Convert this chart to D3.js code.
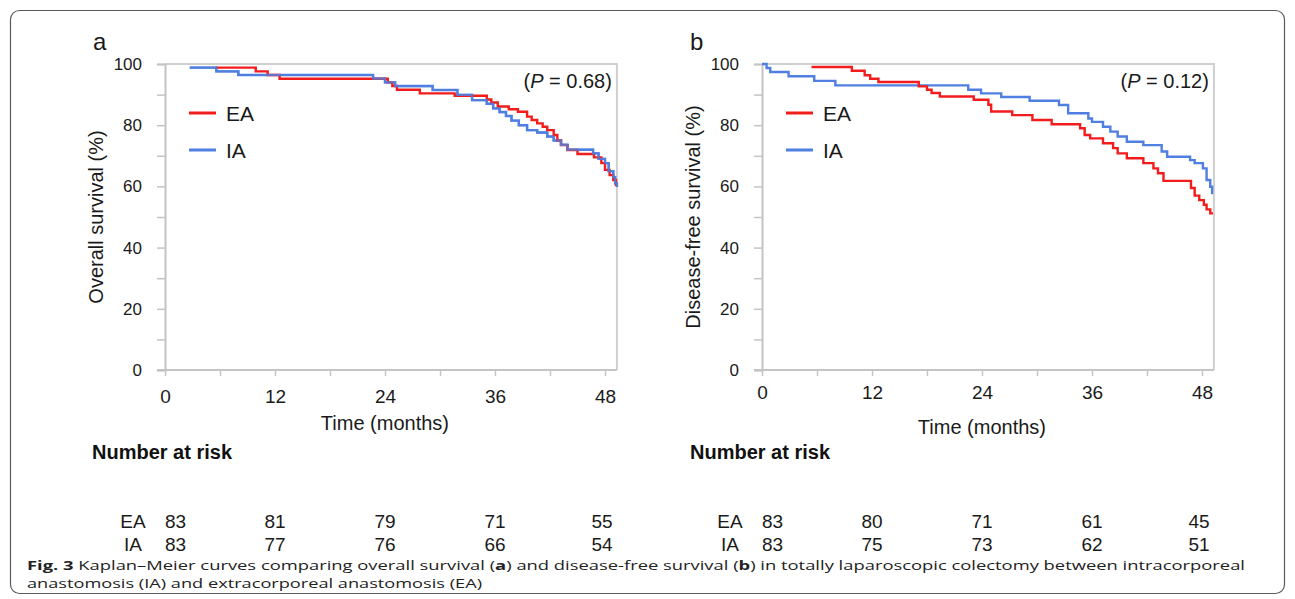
<!DOCTYPE html>
<html>
<head>
<meta charset="utf-8">
<script src="https://cdn.jsdelivr.net/npm/d3@7"></script>
<style>
  html, body { margin: 0; padding: 0; background: #fff; }
  svg { display: block; }
</style>
</head>
<body>
<svg id="chart" width="1295" height="599"></svg>
<script>
// ---------------- DATA ----------------
const groups = ["EA", "IA"];
const xTickValues = [0, 6, 12, 18, 24, 30, 36, 42, 48];
const xLabelValues = [0, 12, 24, 36, 48];
const yTickValues = [0, 10, 20, 30, 40, 50, 60, 70, 80, 90, 100];
const yLabelValues = [0, 20, 40, 60, 80, 100];

// Panel a: overall survival (time in months, survival %)
const osTimeEA = [5.5, 9.9, 11.2, 12.5, 24.3, 24.8, 25.3, 27.8, 31.6, 35.1, 35.6, 36.3, 37.5, 38.5, 39.5, 40.0, 40.6, 41.2, 41.7, 42.4, 42.8, 43.2, 43.9, 45.0, 46.8, 47.6, 48.0, 48.5, 48.9, 49.2, 49.3];
const osSurvEA = [98.8, 97.6, 96.4, 95.2, 94.0, 92.8, 91.6, 90.4, 89.6, 88.4, 87.4, 86.1, 85.2, 84.4, 82.8, 81.7, 80.6, 79.5, 78.4, 76.8, 75.0, 73.5, 71.9, 70.6, 69.5, 67.6, 65.4, 63.7, 62.1, 60.5, 60.5];
const osTimeIA = [2.7, 5.6, 8.0, 22.7, 24.0, 25.1, 29.2, 31.9, 33.5, 35.1, 35.8, 36.5, 37.2, 37.8, 38.6, 39.5, 40.6, 41.7, 42.4, 43.2, 43.9, 46.7, 47.3, 48.0, 48.4, 48.9, 49.1, 49.3];
const osSurvIA = [98.8, 97.6, 96.4, 95.2, 94.0, 92.8, 91.5, 89.9, 88.2, 87.0, 85.5, 84.3, 83.0, 81.5, 80.0, 78.4, 77.6, 76.3, 75.0, 73.6, 72.0, 70.8, 69.0, 67.6, 65.0, 63.0, 61.0, 59.8];

// Panel b: disease-free survival
const dfsTimeEA = [5.4, 9.8, 11.2, 11.8, 12.7, 17.1, 18.0, 18.5, 19.4, 23.1, 24.7, 25.0, 27.3, 29.5, 31.6, 34.7, 35.2, 35.8, 37.2, 38.3, 38.8, 39.8, 41.6, 42.7, 43.2, 43.8, 46.8, 47.2, 47.7, 48.2, 48.5, 48.9, 49.2];
const dfsSurvEA = [99.0, 97.8, 96.3, 95.2, 94.1, 92.7, 91.6, 90.5, 89.4, 88.3, 86.7, 84.5, 83.3, 81.7, 80.3, 79.0, 76.8, 75.7, 74.1, 72.5, 70.8, 69.2, 67.6, 65.9, 64.3, 61.8, 59.5, 57.0, 55.5, 54.0, 52.5, 51.2, 51.2];
const dfsTimeIA = [0, 0.5, 0.9, 2.9, 5.7, 8.0, 22.5, 23.9, 26.1, 29.2, 32.4, 33.4, 35.6, 36.0, 37.2, 38.0, 38.8, 39.8, 41.6, 43.6, 44.2, 46.7, 47.2, 48.1, 48.5, 48.9, 49.1, 49.2];
const dfsSurvIA = [100, 98.7, 97.4, 96.0, 94.5, 93.0, 91.6, 90.4, 89.2, 88.0, 86.6, 83.9, 82.2, 81.1, 79.5, 77.9, 76.3, 74.6, 73.5, 71.4, 69.7, 68.6, 67.6, 65.9, 62.1, 59.9, 57.8, 57.8];

// Numbers at risk at 0, 12, 24, 36, 48 months
const riskTimes = [0, 12, 24, 36, 48];
const osRiskEA = [83, 81, 79, 71, 55];
const osRiskIA = [83, 77, 76, 66, 54];
const dfsRiskEA = [83, 80, 71, 61, 45];
const dfsRiskIA = [83, 75, 73, 62, 51];

const pValues = ["0.68", "0.12"];
const panelLetters = ["a", "b"];
const yTitles = ["Overall survival (%)", "Disease-free survival (%)"];
const xTitle = "Time (months)";

// ---------------- DRAWING ----------------
const svg = d3.select("#chart");
const colors = { EA: "#f21c1c", IA: "#4f7fe0" };
const FONT = "'Liberation Sans', Arial, sans-serif";
const axisGray = "#c4c4c4";

// outer rounded frame
svg.append("rect")
  .attr("x", 10.5).attr("y", 10.5).attr("width", 1274).attr("height", 583)
  .attr("rx", 9).attr("fill", "none").attr("stroke", "#5a5a5a").attr("stroke-width", 1.2);

const zip = (ts, ss) => ts.map((t, i) => [t, ss[i]]);

const panels = [
  { left: 165, xTitleY: 430, xLabelDy: 0,
    curves: { EA: zip(osTimeEA, osSurvEA), IA: zip(osTimeIA, osSurvIA) },
    risk: { EA: osRiskEA, IA: osRiskIA }, riskLabelX: 133, headX: 92 },
  { left: 762, xTitleY: 434, xLabelDy: -4,
    curves: { EA: zip(dfsTimeEA, dfsSurvEA), IA: zip(dfsTimeIA, dfsSurvIA) },
    risk: { EA: dfsRiskEA, IA: dfsRiskIA }, riskLabelX: 730, headX: 690 }
];

panels.forEach((p, pi) => {
  const x = d3.scaleLinear().domain([0, 48]).range([p.left, p.left + 440]);
  const y = d3.scaleLinear().domain([0, 100]).range([370, 64]);
  const xEnd = x(49.3);
  const g = svg.append("g");

  // frame top/right
  g.append("path")
    .attr("d", `M${x(0)},${y(100)}H${xEnd}V${y(0)}`)
    .attr("fill", "none").attr("stroke", "#cfcfcf").attr("stroke-width", 2);

  // y axis
  const yAxis = d3.axisLeft(y).tickValues(yTickValues).tickSize(8).tickPadding(15)
    .tickFormat(d => yLabelValues.includes(d) ? d : "");
  const gy = g.append("g").attr("transform", `translate(${x(0)},0)`).call(yAxis);
  gy.select(".domain").attr("stroke", axisGray).attr("stroke-width", 2);
  gy.selectAll(".tick line").attr("stroke", axisGray).attr("stroke-width", 1.5);
  gy.selectAll(".tick text").attr("font-family", FONT).attr("font-size", 17).attr("fill", "#1a1a1a");

  // x axis
  const xAxis = d3.axisBottom(x).tickValues(xTickValues).tickSize(6).tickPadding(14 + p.xLabelDy)
    .tickFormat(d => xLabelValues.includes(d) ? d : "");
  const gx = g.append("g").attr("transform", `translate(0,${y(0)})`).call(xAxis);
  gx.select(".domain").attr("d", `M${x(0) - 8},0H${xEnd}`).attr("stroke", axisGray).attr("stroke-width", 2);
  gx.selectAll(".tick line").attr("stroke", axisGray).attr("stroke-width", 1.5);
  gx.selectAll(".tick text").attr("font-family", FONT).attr("font-size", 19).attr("fill", "#1a1a1a");

  // curves
  const line = d3.line().x(d => x(d[0])).y(d => y(d[1])).curve(d3.curveStepAfter);
  ["IA", "EA"].forEach(k => {
    g.append("path").datum(p.curves[k]).attr("d", line)
      .attr("fill", "none").attr("stroke", colors[k]).attr("stroke-width", 2.4)
      .attr("stroke-linejoin", "miter");
  });
  if (pi === 0) {
    g.append("path").datum(p.curves.IA).attr("d", line)
      .attr("fill", "none").attr("stroke", colors.IA).attr("stroke-width", 2.2).attr("opacity", 0.85);
  }

  // legend
  groups.forEach((k, i) => {
    const ly = 113 + i * 37;
    g.append("line").attr("x1", p.left + 24).attr("x2", p.left + 51)
      .attr("y1", ly).attr("y2", ly).attr("stroke", colors[k]).attr("stroke-width", 3);
    g.append("text").attr("x", p.left + 61).attr("y", ly + 8)
      .attr("font-family", FONT).attr("font-size", 21).attr("fill", "#1a1a1a").text(k);
  });

  // p value
  const pt = g.append("text").attr("x", xEnd - 5).attr("y", 88).attr("text-anchor", "end")
    .attr("font-family", FONT).attr("font-size", 20).attr("fill", "#1a1a1a");
  pt.append("tspan").text("(");
  pt.append("tspan").attr("font-style", "italic").text("P");
  pt.append("tspan").text(" = " + pValues[pi] + ")");

  // panel letter
  g.append("text").attr("x", p.left - 72).attr("y", 50)
    .attr("font-family", FONT).attr("font-size", 24).attr("fill", "#1a1a1a").text(panelLetters[pi]);

  // y title
  g.append("text").attr("transform", `translate(${p.left - 62},${(y(0) + y(100)) / 2}) rotate(-90)`)
    .attr("text-anchor", "middle").attr("font-family", FONT).attr("font-size", 20)
    .attr("fill", "#1a1a1a").text(yTitles[pi]);

  // x title
  g.append("text").attr("x", (x(0) + xEnd) / 2 - 6).attr("y", p.xTitleY)
    .attr("text-anchor", "middle").attr("font-family", FONT).attr("font-size", 20)
    .attr("fill", "#1a1a1a").text(xTitle);

  // number at risk
  g.append("text").attr("x", p.headX).attr("y", 459)
    .attr("font-family", FONT).attr("font-size", 20).attr("font-weight", "bold")
    .attr("fill", "#111").text("Number at risk");

  groups.forEach((k, i) => {
    const ry = 528 + i * 23;
    g.append("text").attr("x", p.riskLabelX).attr("y", ry).attr("text-anchor", "middle")
      .attr("font-family", FONT).attr("font-size", 19).attr("fill", "#1a1a1a").text(k);
    p.risk[k].forEach((v, j) => {
      const t = riskTimes[j];
      const anchor = j === 0 ? "start" : "middle";
      g.append("text").attr("x", x(t) + (j === riskTimes.length - 1 ? -3 : 0)).attr("y", ry)
        .attr("text-anchor", anchor).attr("font-family", FONT).attr("font-size", 19)
        .attr("fill", "#1a1a1a").text(v);
    });
  });
});

// caption
const CAP = "'Open Sans', 'Noto Sans', sans-serif";
const c1 = svg.append("text").attr("x", 27).attr("y", 570).attr("font-family", CAP)
  .attr("font-size", 13).attr("fill", "#222")
  .attr("textLength", 1218).attr("lengthAdjust", "spacingAndGlyphs");
c1.append("tspan").attr("font-weight", "bold").text("Fig. 3");
c1.append("tspan").text("  Kaplan–Meier curves comparing overall survival (");
c1.append("tspan").attr("font-weight", "bold").text("a");
c1.append("tspan").text(") and disease-free survival (");
c1.append("tspan").attr("font-weight", "bold").text("b");
c1.append("tspan").text(") in totally laparoscopic colectomy between intracorporeal");

svg.append("text").attr("x", 27).attr("y", 588).attr("font-family", CAP)
  .attr("font-size", 13).attr("fill", "#222")
  .attr("textLength", 455).attr("lengthAdjust", "spacingAndGlyphs")
  .text("anastomosis (IA) and extracorporeal anastomosis (EA)");
</script>
</body>
</html>
